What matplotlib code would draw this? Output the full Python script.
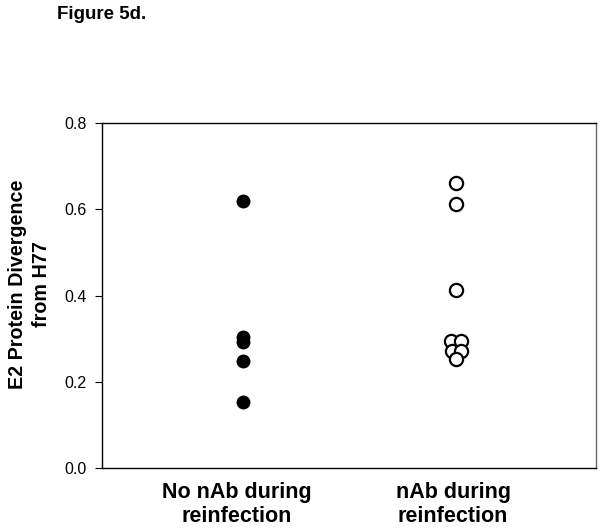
import matplotlib
matplotlib.use("Agg")
import matplotlib.pyplot as plt

plt.rcParams['font.family'] = ['Liberation Sans', 'DejaVu Sans']

# --- DATA ---
groups = ["No nAb during\nreinfection", "nAb during\nreinfection"]
no_nab_values = [0.618, 0.303, 0.293, 0.249, 0.154]
no_nab_xoffset = [0, 0, 0, 0, 0]
nab_values = [0.660, 0.612, 0.413, 0.295, 0.295, 0.271, 0.271, 0.252]
nab_xoffset = [0, 0, 0, -0.024, 0.024, -0.022, 0.024, 0]
y_ticks = [0.0, 0.2, 0.4, 0.6, 0.8]

# --- CHART ---
fig = plt.figure(figsize=(6.04, 5.31), dpi=100)
ax = fig.add_axes([102 / 604, 1 - 468 / 531, 494 / 604, 345 / 531])

ax.plot([1 + d for d in no_nab_xoffset], no_nab_values, 'o', color='black',
        markersize=10, markeredgewidth=0, linestyle='none')
ax.plot([2 + d for d in nab_xoffset], nab_values, 'o', markerfacecolor='white',
        markeredgecolor='black', markersize=9.5, markeredgewidth=1.6, linestyle='none')

ax.set_xlim(0.34, 2.655)
ax.set_ylim(0, 0.8)
ax.set_yticks(y_ticks)
ax.set_yticklabels([f"{v:.1f}" for v in y_ticks], fontsize=11.5)
ax.set_xticks([0.97, 1.985])
ax.set_xticklabels(groups, fontsize=15.5, fontweight='bold', linespacing=1.17)
ax.tick_params(axis='x', length=0, pad=10)
ax.tick_params(axis='y', length=5, width=0.8, direction='out', pad=6)
for s in ax.spines.values():
    s.set_linewidth(1.0)
ax.spines['right'].set_color('#666666')

ax.set_ylabel("E2 Protein Divergence\nfrom H77", fontsize=14.2, fontweight='bold',
              linespacing=1.32)
ax.yaxis.set_label_coords(-0.104, 0.533)

fig.text(57 / 604, 1 - 6 / 531, "Figure 5d.", fontsize=13.5, fontweight='bold',
         ha='left', va='top')

fig.savefig('out.png', dpi=100)
